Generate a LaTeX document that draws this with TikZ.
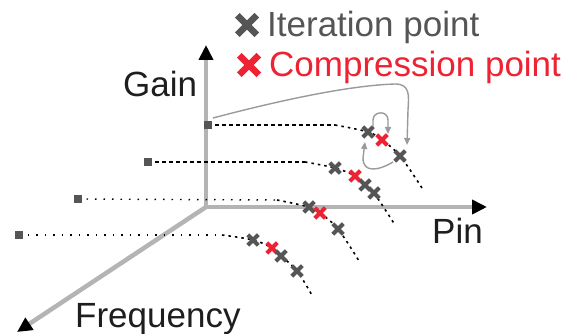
\documentclass[tikz,border=0pt]{standalone}
\usepackage{fontspec}
\setmainfont{Liberation Sans}
\usetikzlibrary{arrows.meta,shapes.misc,calc}
\definecolor{markgray}{HTML}{555555}
\definecolor{markred}{HTML}{EE2233}
\definecolor{axisgray}{HTML}{B4B4B4}
\definecolor{arrgray}{HTML}{9A9A9A}
\definecolor{labelblack}{HTML}{1E1E1E}
\begin{document}
\begin{tikzpicture}[x=1pt,y=-1pt,
  axisline/.style={draw=axisgray, line width=4.5pt, -{Triangle[length=15pt,width=14pt,color=black]}},
  lbl/.style={font=\fontsize{35}{40}\selectfont, text=labelblack, inner sep=0pt, anchor=base west},
  mk/.style={cross out, draw=markgray, line width=4pt, minimum size=6.5pt, inner sep=0pt},
  mkred/.style={mk, draw=markred},
  lgmk/.style={cross out, draw=markgray, line width=6.5pt, minimum size=13pt, inner sep=0pt},
  startsq/.style={rectangle, fill=markgray, minimum size=8pt, inner sep=0pt},
  hdash/.style={draw=black, line width=1.3pt, dash pattern=on 4pt off 3pt},
  hdot/.style={draw=black, line width=1.4pt, dash pattern=on 1.5pt off 7pt},
  cdash/.style={draw=black, line width=1.6pt, dash pattern=on 2.5pt off 4pt},
  iter/.style={draw=arrgray, line width=1.4pt, -{Triangle[length=7pt,width=6pt]}}
]
\useasboundingbox (0,0) rectangle (570,334);

% axes
\coordinate (O) at (206,207);
\coordinate (gainEnd) at (206,45);
\coordinate (pinEnd) at (487,207);
\coordinate (freqEnd) at (17,332);
\draw[axisline] (O) -- (gainEnd);
\draw[axisline] (O) -- (pinEnd);
\draw[axisline] (O) -- (freqEnd);

% curve coordinates
\coordinate (sA) at (208,125); \coordinate (kA) at (335,125);
\coordinate (a1) at (368,132); \coordinate (a2) at (382,140);
\coordinate (a3) at (400,156); \coordinate (eA) at (422,188);

\coordinate (sB) at (148,162); \coordinate (kB) at (305,162);
\coordinate (b1) at (335,168); \coordinate (b2) at (355,176);
\coordinate (b3) at (365,185); \coordinate (b4) at (374,193);
\coordinate (eB) at (395,225);

\coordinate (sC) at (78,199); \coordinate (kC) at (277,200);
\coordinate (c1) at (309,207); \coordinate (c2) at (320,213);
\coordinate (c3) at (338,229); \coordinate (eC) at (359,261);

\coordinate (sD) at (19,235); \coordinate (kD) at (222,235);
\coordinate (d1) at (253,240); \coordinate (d2) at (272,248);
\coordinate (d3) at (281,256); \coordinate (d4) at (297,271);
\coordinate (eD) at (313,297);

% lines
\draw[hdash] (sA) -- (kA);
\draw[cdash] plot[smooth, tension=0.6] coordinates {(kA) (a1) (a2) (a3) (eA)};
\draw[hdash] (sB) -- (kB);
\draw[cdash] plot[smooth, tension=0.6] coordinates {(kB) (b1) (b2) (b3) (b4) (eB)};
\draw[hdot] (sC) -- (kC);
\draw[cdash] plot[smooth, tension=0.6] coordinates {(kC) (c1) (c2) (c3) (eC)};
\draw[hdot] (sD) -- (kD);
\draw[cdash] plot[smooth, tension=0.6] coordinates {(kD) (d1) (d2) (d3) (d4) (eD)};

% start squares
\node[startsq] (qA) at (sA) {};
\node[startsq] (qB) at (sB) {};
\node[startsq] (qC) at (sC) {};
\node[startsq] (qD) at (sD) {};

% marks
\node[mk] (ma1) at (a1) {};
\node[mkred] (ma2) at (a2) {};
\node[mk] (ma3) at (a3) {};
\node[mk] (mb1) at (b1) {};
\node[mkred] (mb2) at (b2) {};
\node[mk] (mb3) at (b3) {};
\node[mk] (mb4) at (b4) {};
\node[mk] (mc1) at (c1) {};
\node[mkred] (mc2) at (c2) {};
\node[mk] (mc3) at (c3) {};
\node[mk] (md1) at (d1) {};
\node[mkred] (md2) at (d2) {};
\node[mk] (md3) at (d3) {};
\node[mk] (md4) at (d4) {};

% iteration arrows
\draw[iter] ($(qA)+(5,-7)$) .. controls (300,95) and (360,85) .. (395,84)
  .. controls (410,84) and (409,95) .. (408,110) -- ($(ma3)+(7,-11)$);
\draw[iter] ($(ma1)+(5,-5)$) -- (373,120) .. controls (373,111) and (388,110) .. (388,120)
  -- ($(ma2)+(6,-6)$);
\draw[iter] ($(ma3)+(-7,6)$) .. controls (378,171) and (363,173) .. (363,158)
  -- ($(ma1)+(-3,10)$);

% labels
\node[lbl] (gain) at (123,97) {Gain};
\node[lbl] (pin) at (432,243) {Pin};
\node[lbl] (freq) at (75,327) {Frequency};

% legend
\node[lgmk] (lgI) at (247,25) {};
\node[lgmk, draw=markred] (lgC) at (249,65) {};
\node[lbl, text=markgray] (legI) at (267,37) {Iteration point};
\node[lbl, text=markred] (legC) at (269,77) {Compression point};
\end{tikzpicture}
\end{document}
